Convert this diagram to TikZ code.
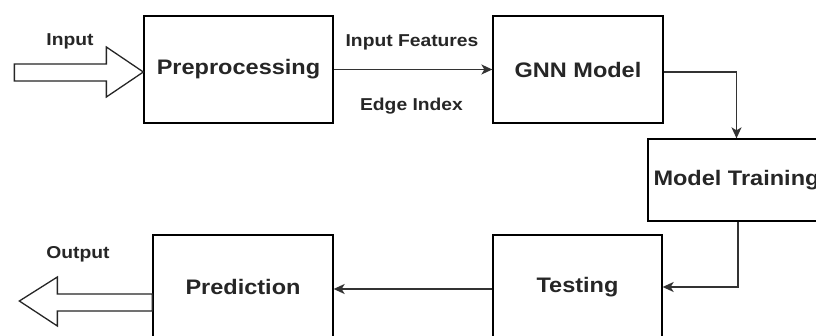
\documentclass[tikz,border=0pt]{standalone}
\usepackage{fontspec}
\setmainfont[FakeStretch=1.12]{Liberation Sans}
\usetikzlibrary{arrows.meta}
\begin{document}
\begin{tikzpicture}[x=1pt,y=-1pt,
  stagebox/.style={draw=black, line width=1.3pt, fill=white, inner sep=0pt,
    font=\fontsize{21}{24}\selectfont\bfseries, text=black!85},
  flowlabel/.style={font=\fontsize{17.2}{20}\selectfont\bfseries, text=black!85, inner sep=0pt},
  conn/.style={draw=black!80, line width=1.5pt, -{Stealth[length=11pt,width=10pt,inset=3pt]}},
  blockarrow/.style={draw=black!85, line width=1.3pt, fill=white, line join=miter}]
\path[use as bounding box, clip] (0,0) rectangle (816,336);
\fill[white] (0,0) rectangle (816,336);

% processing stages
\node[stagebox, minimum width=189pt, minimum height=107pt] (pre)   at (238.5,69.5) {Preprocessing};
\node[stagebox, minimum width=170pt, minimum height=107pt] (gnn)   at (578,69.5)   {GNN Model};
\node[stagebox, minimum width=177pt, minimum height=82pt]  (train) at (736.5,180)  {Model Training};
\node[stagebox, minimum width=169pt, minimum height=104pt] (test)  at (577.5,287)  {Testing};
\node[stagebox, minimum width=180pt, minimum height=104pt] (pred)  at (243,287)    {Prediction};

% labels
\node[flowlabel] (lin)   at (70,41)   {Input};
\node[flowlabel] (lfeat) at (412,42)  {Input Features};
\node[flowlabel] (ledge) at (411.5,106) {Edge Index};
\node[flowlabel] (lout)  at (78,254)  {Output};

% connectors between stages
\draw[conn] (pre.east) -- (gnn.west);
\draw[conn] ([yshift=-2.5pt]gnn.east) -| (train.north);
\draw[conn] ([xshift=1.5pt]train.south) |- (test.east);
\draw[conn] ([yshift=-2pt]test.west) -- ([yshift=-2pt]pred.east);

% hollow block arrows for input and output
\coordinate (inTip) at ([yshift=-2.5pt]pre.west);
\draw[blockarrow] (inTip)
  -- ++(-37,-25) -- ++(0,17) -- ++(-92,0) -- ++(0,17) -- ++(92,0) -- ++(0,16) -- cycle;
\coordinate (outBase) at (pred.west);
\draw[blockarrow] ([yshift=-7pt]outBase)
  -- ++(-95,0) -- ++(0,-17) -- ++(-38,24) -- ++(38,25) -- ++(0,-15) -- ++(95,0) -- cycle;
\end{tikzpicture}
\end{document}
